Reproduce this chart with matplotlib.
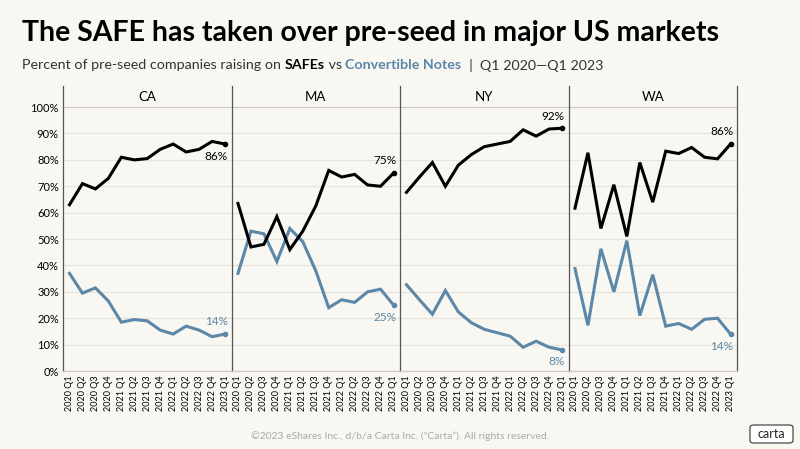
import matplotlib
matplotlib.use("Agg")
import matplotlib.pyplot as plt
from matplotlib.patches import FancyBboxPatch

quarters = ["2020 Q1","2020 Q2","2020 Q3","2020 Q4","2021 Q1","2021 Q2","2021 Q3","2021 Q4",
            "2022 Q1","2022 Q2","2022 Q3","2022 Q4","2023 Q1"]
states = ["CA", "MA", "NY", "WA"]
safe_ca = [63, 71, 69, 73, 81, 80, 80.5, 84, 86, 83, 84, 87, 86]
note_ca = [37, 29.5, 31.5, 26.5, 18.5, 19.5, 19, 15.5, 14, 17, 15.5, 13, 14]
safe_ma = [63.5, 47, 48, 58.5, 46, 53, 62.5, 76, 73.5, 74.5, 70.5, 70, 75]
note_ma = [37, 53, 52, 41.5, 54, 49, 38, 24, 27, 26, 30, 31, 25]
safe_ny = [67.7, 73.5, 79, 70, 78, 82, 85, 86, 87, 91.4, 89, 91.7, 92]
note_ny = [32.7, 27, 21.5, 30.5, 22.4, 18.3, 15.8, 14.5, 13.2, 9, 11.3, 9, 8]
safe_wa = [61.7, 82.7, 54, 70.6, 51, 79, 64, 83.3, 82.4, 84.7, 81, 80.4, 86]
note_wa = [38.8, 17.3, 46.3, 30, 49.4, 21, 36.5, 17, 18, 15.8, 19.6, 20, 14]
safe_all = [safe_ca, safe_ma, safe_ny, safe_wa]
note_all = [note_ca, note_ma, note_ny, note_wa]
yticks = [0, 10, 20, 30, 40, 50, 60, 70, 80, 90, 100]

BG = "#f9f7f2"
BLUE = "#5b87a8"
GRID = "#e6e3dc"
plt.rcParams['font.family'] = ['Lato', 'DejaVu Sans']

W, H = 800, 449
fig = plt.figure(figsize=(8, 4.49), dpi=100, facecolor=BG)

def fx(x): return x / W
def fy(y): return 1 - y / H

x0, x1 = 63, 737
top, bot = 86, 371
pw = (x1 - x0) / 4
x = list(range(len(quarters)))
for i, st in enumerate(states):
    ax = fig.add_axes([fx(x0 + i * pw), fy(bot), pw / W, (bot - top) / H])
    ax.set_facecolor(BG)
    ax.set_ylim(0, 108)
    ax.set_xlim(-0.5, len(quarters) - 0.5)
    for t in yticks:
        ax.axhline(t, color=GRID, lw=0.8, zorder=0)
    ax.axhline(100, color="#cfcbc3", lw=0.8, zorder=0)
    s, n = safe_all[i], note_all[i]
    ax.plot(x, n, color=BLUE, lw=2.2, solid_joinstyle='miter')
    ax.plot(x, s, color="black", lw=2.2, solid_joinstyle='miter')
    ax.plot(x[-1], s[-1], 'o', color="black", ms=3)
    ax.plot(x[-1], n[-1], 'o', color=BLUE, ms=3)
    if st == "CA":
        ax.text(x[-1] + 0.2, s[-1] - 2.5, f"{round(s[-1])}%", ha='right', va='top', fontsize=8.5)
        ax.text(x[-1] + 0.2, n[-1] + 2.5, f"{round(n[-1])}%", ha='right', va='bottom', fontsize=8.5, color=BLUE)
    else:
        ax.text(x[-1] + 0.2, s[-1] + 2.5, f"{round(s[-1])}%", ha='right', va='bottom', fontsize=8.5)
        ax.text(x[-1] + 0.2, n[-1] - 2.5, f"{round(n[-1])}%", ha='right', va='top', fontsize=8.5, color=BLUE)
    ax.text((len(quarters) - 1) / 2, 104, st, ha='center', va='center', fontsize=9.5)
    ax.set_xticks(x)
    ax.set_xticklabels(quarters, rotation=90, fontsize=6.5)
    ax.set_yticks(yticks)
    if i == 0:
        ax.set_yticklabels([f"{t}%" for t in yticks], fontsize=8)
    else:
        ax.set_yticklabels([])
    ax.tick_params(length=0, pad=3)
    ax.spines["top"].set_visible(False)
    ax.spines["right"].set_visible(i == 3)
    for sp in ["left", "right", "bottom"]:
        ax.spines[sp].set_color("#555555")
        ax.spines[sp].set_linewidth(0.9)
    ax.spines["bottom"].set_color("#cfcbc3")

fig.text(fx(22), fy(33), "The SAFE has taken over pre-seed in major US markets",
         fontsize=20.5, fontweight='bold', va='center', ha='left')
parts = [("Percent of pre-seed companies raising on ", "#333333", 'normal'),
         ("SAFEs", "black", 'bold'),
         (" vs ", "#333333", 'normal'),
         ("Convertible Notes", BLUE, 'bold'),
         ("  |  Q1 2020\u2014Q1 2023", "#333333", 'normal')]
fig.canvas.draw()
r = fig.canvas.get_renderer()
xpos = fx(22)
for txt, col, wt in parts:
    t = fig.text(xpos, fy(65), txt, fontsize=10.3, color=col, fontweight=wt, va='center', ha='left')
    bb = t.get_window_extent(renderer=r)
    xpos += bb.width / W

fig.text(0.5, fy(436), "\u00a92023 eShares Inc., d/b/a Carta Inc. (\u201cCarta\u201d). All rights reserved.",
         fontsize=7.5, color="#aaaaaa", ha='center', va='center')
fig.patches.append(FancyBboxPatch((fx(750), fy(443)), fx(43), 18 / H, boxstyle="round,pad=0,rounding_size=0.005",
                                  transform=fig.transFigure, fc="white", ec="#333333", lw=0.8))
fig.text(fx(771.5), fy(434), "carta", fontsize=9, ha='center', va='center', color="#222222")

fig.savefig("out.png", dpi=100, facecolor=BG)
